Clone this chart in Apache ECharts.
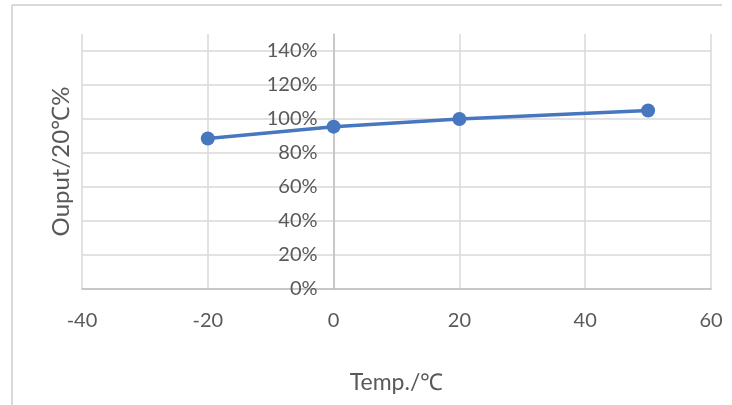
<!DOCTYPE html>
<html><head><meta charset="utf-8">
<script src="https://cdn.jsdelivr.net/npm/echarts@6/dist/echarts.min.js"></script>
<style>html,body{margin:0;padding:0;background:#fff}#c{width:732px;height:405px}</style>
</head><body><div id="c"></div>
<script>
const temps = [-20, 0, 20, 50];
const outputPct = [88.5, 95.5, 100, 105];
const xTicks = [-40, -20, 0, 20, 40, 60];
const yTicks = [0, 20, 40, 60, 80, 100, 120, 140];

const grid = '#d9d9d9';
const axisC = '#bfbfbf';
const txt = '#595959';
const font = 'Lato';
const gLeft = 82, gRight = 21;
const xMin = xTicks[0], xMax = xTicks[xTicks.length - 1];
const plotW = 732 - gLeft - gRight;
const yAxisOffset = -plotW * (0 - xMin) / (xMax - xMin);
const chart = echarts.init(document.getElementById('c'));
const splitColors = yTicks.map(() => grid).concat(['rgba(0,0,0,0)']);
chart.setOption({
  animation: false,
  backgroundColor: '#fff',
  graphic: [
    {type: 'line', shape: {x1: 12, y1: 5, x2: 722, y2: 5}, style: {stroke: '#d9d9d9', lineWidth: 2}},
    {type: 'line', shape: {x1: 12, y1: 5, x2: 12, y2: 405}, style: {stroke: '#d9d9d9', lineWidth: 2}}
  ],
  grid: {left: gLeft, right: gRight, top: 34, bottom: 116},
  xAxis: {
    type: 'value', min: xMin, max: xMax, interval: 20,
    axisLine: {show: true, onZero: false, lineStyle: {color: axisC, width: 1.5}},
    axisTick: {show: false},
    splitLine: {show: true, lineStyle: {color: grid, width: 1.5}},
    axisLabel: {color: txt, fontFamily: font, fontSize: 20, margin: 22},
    name: 'Temp./℃', nameLocation: 'middle', nameGap: 82,
    nameTextStyle: {color: txt, fontFamily: font, fontSize: 23}
  },
  yAxis: [{
    type: 'value', min: 0, max: 150, interval: 20, position: 'left', offset: yAxisOffset,
    axisLine: {show: true, onZero: false, lineStyle: {color: axisC, width: 1.5}},
    axisTick: {show: false},
    splitLine: {show: true, lineStyle: {color: splitColors, width: 1.5}},
    axisLabel: {color: txt, fontFamily: font, fontSize: 20, margin: 16,
      formatter: v => yTicks.indexOf(v) >= 0 ? v + '%' : ''}
  }, {
    type: 'value', min: 0, max: 150, position: 'left', offset: 0,
    axisLine: {show: false, onZero: false}, axisTick: {show: false},
    axisLabel: {show: false}, splitLine: {show: false},
    name: 'Ouput/20℃%', nameLocation: 'middle', nameGap: 9,
    nameTextStyle: {color: txt, fontFamily: font, fontSize: 24}
  }],
  series: [{
    type: 'line', yAxisIndex: 0,
    data: temps.map((t, i) => [t, outputPct[i]]),
    symbol: 'circle', symbolSize: 14,
    lineStyle: {color: '#4677BF', width: 3.5},
    itemStyle: {color: '#4677BF'}
  }]
});
</script></body></html>
